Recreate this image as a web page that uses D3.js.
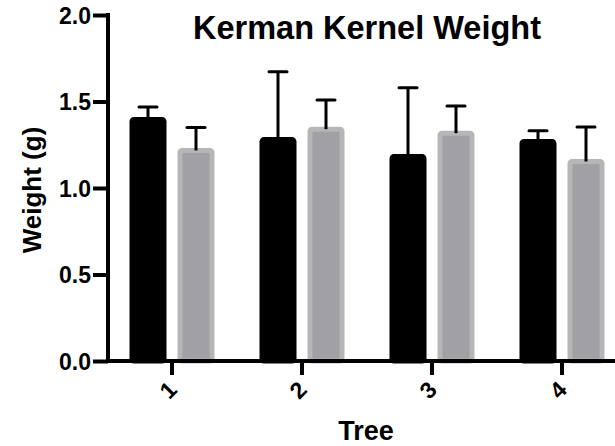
<!DOCTYPE html>
<html>
<head>
<meta charset="utf-8">
<script src="https://cdn.jsdelivr.net/npm/d3@7"></script>
<style>
  body { margin: 0; background: #fff; }
  svg text { font-family: "Liberation Sans", Arial, sans-serif; font-weight: bold; fill: #000; }
</style>
</head>
<body>
<div class="chart"></div>
<script>
var width = 615,
    height = 446;

// data
var trees = ["1", "2", "3", "4"];
var groups = ["black", "gray"];
var blackMean = [1.396, 1.280, 1.182, 1.269];
var blackSd = [0.072, 0.392, 0.398, 0.062];
var grayMean = [1.217, 1.340, 1.317, 1.153];
var graySd = [0.132, 0.169, 0.157, 0.200];
var yTicks = [0, 0.5, 1.0, 1.5, 2.0];

var svg = d3.select(".chart")
    .append("svg")
    .attr("width", width)
    .attr("height", height);

var x = d3.scaleBand()
    .domain(trees)
    .range([107, 627])
    .paddingInner(0)
    .paddingOuter(0);

// position of the two bars inside a tree group, relative to its centre
var xInner = d3.scaleBand()
    .domain(groups)
    .range([-40, 40])
    .paddingInner(1 / 3);

var y = d3.scaleLinear()
    .domain([0, 2])
    .range([361, 15]);

var rows = [];
trees.forEach(function (t, i) {
    rows.push({ tree: t, group: "black", mean: blackMean[i], sd: blackSd[i] });
    rows.push({ tree: t, group: "gray", mean: grayMean[i], sd: graySd[i] });
});

function cx(d) {
    return x(d.tree) + x.bandwidth() / 2 + xInner(d.group) + xInner.bandwidth() / 2;
}

var bars = svg.append("g").attr("class", "bars");

bars.selectAll("rect")
    .data(rows)
    .enter().append("rect")
    .attr("x", function (d) { return cx(d) - xInner.bandwidth() / 2; })
    .attr("y", function (d) { return y(d.mean); })
    .attr("width", xInner.bandwidth())
    .attr("height", function (d) { return y(0) - y(d.mean); })
    .attr("rx", 2)
    .style("fill", function (d) { return d.group == "black" ? "#000" : "#a1a1a5"; })
    .style("stroke", function (d) { return d.group == "black" ? "#000" : "#b6b6b6"; })
    .style("stroke-width", 5);

// error bars, only the upper half
var err = svg.append("g").attr("class", "errors");

err.selectAll("line.stem")
    .data(rows)
    .enter().append("line")
    .attr("class", "stem")
    .attr("x1", cx)
    .attr("x2", cx)
    .attr("y1", function (d) { return y(d.mean); })
    .attr("y2", function (d) { return y(d.mean + d.sd); })
    .style("stroke", "#000")
    .style("stroke-width", 3);

err.selectAll("line.cap")
    .data(rows)
    .enter().append("line")
    .attr("class", "cap")
    .attr("x1", function (d) { return cx(d) - 9; })
    .attr("x2", function (d) { return cx(d) + 9; })
    .attr("y1", function (d) { return y(d.mean + d.sd); })
    .attr("y2", function (d) { return y(d.mean + d.sd); })
    .style("stroke", "#000")
    .style("stroke-width", 3)
    .style("stroke-linecap", "round");

// axes
var yAxis = svg.append("g")
    .attr("transform", "translate(108,0)")
    .call(d3.axisLeft(y)
        .tickValues(yTicks)
        .tickFormat(d3.format(".1f"))
        .tickSize(15)
        .tickPadding(2)
        .tickSizeOuter(0));

yAxis.select(".domain")
    .attr("d", "M0," + (y(2) - 2) + "V" + (y(0) + 2))
    .style("stroke", "#000")
    .style("stroke-width", 4);
yAxis.selectAll(".tick line")
    .style("stroke", "#000")
    .style("stroke-width", 4);
yAxis.selectAll(".tick text")
    .style("font-size", "23px")
    .attr("dy", "0.36em");

var xAxis = svg.append("g")
    .attr("transform", "translate(0," + y(0) + ")")
    .call(d3.axisBottom(x)
        .tickSize(14)
        .tickSizeOuter(0));

xAxis.select(".domain")
    .attr("d", "M106,0H" + width)
    .style("stroke", "#000")
    .style("stroke-width", 4);
xAxis.selectAll(".tick line")
    .style("stroke", "#000")
    .style("stroke-width", 4);
xAxis.selectAll(".tick text")
    .style("font-size", "23px")
    .attr("y", 0)
    .attr("dy", "0.36em")
    .attr("text-anchor", "middle")
    .attr("transform", "translate(-4,29) rotate(-45)");

// titles
svg.append("text")
    .attr("x", 367)
    .attr("y", 39)
    .attr("text-anchor", "middle")
    .style("font-size", "32.5px")
    .text("Kerman Kernel Weight");

svg.append("text")
    .attr("x", 366)
    .attr("y", 440)
    .attr("text-anchor", "middle")
    .style("font-size", "27px")
    .text("Tree");

svg.append("text")
    .attr("transform", "translate(41,190) rotate(-90)")
    .attr("text-anchor", "middle")
    .style("font-size", "26px")
    .text("Weight (g)");
</script>
</body>
</html>
